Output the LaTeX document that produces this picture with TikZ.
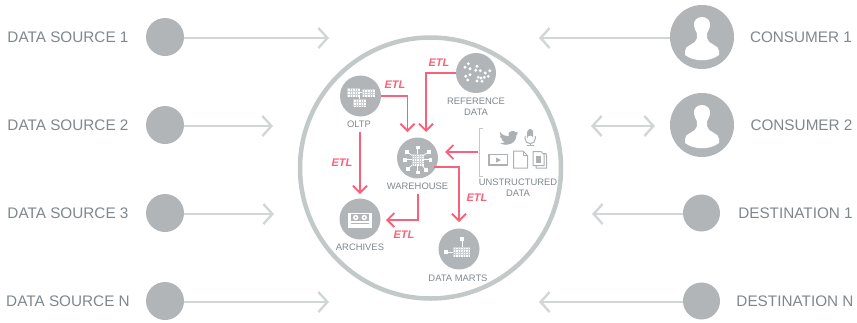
\documentclass[tikz,border=0pt]{standalone}
\usepackage{fontspec}
\setmainfont{Liberation Sans}
\usetikzlibrary{arrows.meta,calc}
\definecolor{disc}{HTML}{B1B5B8}
\definecolor{lbl}{HTML}{7F878C}
\definecolor{flow}{HTML}{D2D6D6}
\definecolor{ring}{HTML}{C3C8C8}
\definecolor{etlred}{HTML}{F9617A}
\definecolor{iconc}{HTML}{ACB0B3}
\definecolor{gridline}{HTML}{CDD0D2}
% x y cols rows cellw cellh
\newcommand{\gridicon}[6]{%
  \fill[white] (#1,#2) rectangle ++({#3*#5},{#4*#6});
  \foreach \ci in {1,...,#3}{\draw[gridline,line width=.4pt] ({#1+\ci*#5-#5},#2) -- ++(0,{#4*#6});}
  \foreach \cj in {1,...,#4}{\draw[gridline,line width=.4pt] (#1,{#2+\cj*#6-#6}) -- ++({#3*#5},0);}
}
\newcommand{\personicon}[2]{%
  \fill[white,shift={(#1,#2)}] (-8,-11) .. controls (-8.7,-16.5) and (-5,-20) .. (0,-20)
   .. controls (5,-20) and (8.7,-16.5) .. (8,-11)
   .. controls (7.5,-8) and (6,-6) .. (5.2,-4) -- (5.2,1.5) .. controls (5.4,4.5) and (8,5.5) .. (12,8)
   .. controls (15,9.5) and (16.8,11) .. (17,14) -- (17,18)
   .. controls (8,25) and (-8,25) .. (-17,18)
   -- (-17,14) .. controls (-16.8,11) and (-15,9.5) .. (-12,8)
   .. controls (-8,5.5) and (-5.4,4.5) .. (-5.2,1.5) -- (-5.2,-4)
   .. controls (-6,-6) and (-7.5,-8) .. (-8,-11) -- cycle;
}
\tikzset{
  x=1pt,y=-1pt,
  bigdisc/.style={circle,fill=disc,inner sep=0pt,minimum size=#1},
  sidelabel/.style={text=lbl,inner sep=0pt,font=\fontsize{15.3}{17}\selectfont},
  smalllabel/.style={text=lbl,inner sep=0pt,align=center,font=\fontsize{9.4}{10.6}\selectfont},
  etl/.style={text=etlred,inner sep=0pt,font=\fontsize{11}{12}\selectfont\bfseries\itshape},
  flowline/.style={draw=flow,line width=2.4pt,-{Straight Barb[length=9pt,width=20pt,line width=2.4pt]}},
  flowboth/.style={draw=flow,line width=2.4pt,{Straight Barb[length=9pt,width=20pt,line width=2.4pt]}-{Straight Barb[length=9pt,width=20pt,line width=2.4pt]}},
  etlline/.style={draw=etlred,line width=1.8pt,-{Straight Barb[length=7pt,width=14pt,line width=1.8pt]}},
  icon/.style={draw=iconc,line width=1.2pt,fill=white},
}
\begin{document}
\begin{tikzpicture}
\useasboundingbox (0,0) rectangle (857,322);
% ring
\node[circle,draw=ring,line width=4.5pt,inner sep=0pt,minimum size=261pt] (ring) at (430.5,168) {};
% left
\node[sidelabel] (ls1) at (68,37) {DATA SOURCE 1};
\node[sidelabel] (ls2) at (68,125) {DATA SOURCE 2};
\node[sidelabel] (ls3) at (68,213) {DATA SOURCE 3};
\node[sidelabel] (lsn) at (68,301) {DATA SOURCE N};
\coordinate (s1e) at (329,38);
\coordinate (s2e) at (273,126);
\coordinate (s3e) at (274,214);
\coordinate (sne) at (329,302);
\coordinate (s1s) at (165,38);
\coordinate (s2s) at (165,126);
\coordinate (s3s) at (165,214);
\coordinate (sns) at (165,302);
\draw[flowline] (s1s) -- (s1e);
\draw[flowline] (s2s) -- (s2e);
\draw[flowline] (s3s) -- (s3e);
\draw[flowline] (sns) -- (sne);
\node[bigdisc=38pt] (s1) at (165,37) {};
\node[bigdisc=38pt] (s2) at (165,125) {};
\node[bigdisc=38pt] (s3) at (165,213) {};
\node[bigdisc=38pt] (sn) at (165,301) {};
% right
\node[sidelabel] (lc1) at (801,37) {CONSUMER 1};
\node[sidelabel] (lc2) at (801.5,125) {CONSUMER 2};
\node[sidelabel] (ld1) at (795.5,213) {DESTINATION 1};
\node[sidelabel] (ldn) at (795,301) {DESTINATION N};
\node[bigdisc=64pt] (c1) at (702,37) {};
\node[bigdisc=64pt] (c2) at (702,125) {};
\node[bigdisc=37pt] (d1) at (701.5,213) {};
\node[bigdisc=37pt] (dn) at (701.5,301) {};
\personicon{702}{37}
\personicon{702}{125}
\coordinate (c1e) at (539,38);
\coordinate (c2a) at (591,126);
\coordinate (c2b) at (655,126);
\coordinate (d1e) at (592,214);
\coordinate (dne) at (539,302);
\draw[flowline] (c1.west |- c1e) -- (c1e);
\draw[flowboth] (c2a) -- (c2b);
\draw[flowline] (d1.west |- d1e) -- (d1e);
\draw[flowline] (dn.west |- dne) -- (dne);
% inner nodes
\node[bigdisc=41pt] (oltp) at (360.5,96) {};
\node[bigdisc=40pt] (refd) at (476,73) {};
\node[bigdisc=41pt] (wh) at (417.5,158) {};
\node[bigdisc=41pt] (arch) at (360,219) {};
\node[bigdisc=41pt] (marts) at (459,249) {};
\node[smalllabel] (loltp) at (359,124) {OLTP};
\node[smalllabel] (lref) at (476,107) {REFERENCE\\DATA};
\node[smalllabel] (lwh) at (417.5,186) {WAREHOUSE};
\node[smalllabel] (larch) at (360,247.5) {ARCHIVES};
\node[smalllabel] (lmarts) at (458,278.5) {DATA MARTS};
\node[smalllabel] (lun) at (518,188) {UNSTRUCTURED\\DATA};
% ETL arrows
\coordinate (wa) at (407.5,132);
\coordinate (wb) at (426,132);
\coordinate (ab) at (360,194);
\coordinate (mt) at (459,222);
\coordinate (wd) at (418,194);
\coordinate (ar) at (386,220);
\coordinate (ua) at (478,152);
\coordinate (ue) at (445,152);
\coordinate (wr) at (434,167);
\coordinate (oltpdown) at (360,132);
\draw[etlline] (oltp.east) -| (wa);
\draw[etlline] (refd.west) -| (wb);
\draw[etlline] (oltpdown) -- (ab);
\draw[etlline] (wr) -| (mt);
\draw[etlline] (wd) |- (ar);
\draw[etlline] (ua) -- (ue);
\node[etl] (e1) at (395,85) {ETL};
\node[etl] (e2) at (439,62.5) {ETL};
\node[etl] (e3) at (342,162.5) {ETL};
\node[etl] (e4) at (477,198) {ETL};
\node[etl] (e5) at (404,235) {ETL};
% bracket
\draw[draw=ring,line width=1pt] (483,128) -- (479.5,128) -- (479.5,176) -- (483,176);
% OLTP icon
\draw[white,line width=.7pt] (360,92.5) -- (362,92.5) (359.5,96.7) -- (359.5,99.3);
\gridicon{347.3}{88.3}{5}{3}{2.5}{2.8}
\gridicon{362}{89}{5}{3}{2.6}{2.8}
\gridicon{353.3}{99.3}{5}{3}{2.5}{2.7}
% reference dots
\foreach \dx/\dy in {-11/-5.7, -7.7/-9.3, -6/-4.3, 1/-6.7, -0.3/-2.7, 4.3/-2.3, 9.3/0, 13.7/-2.3, 12.3/3.3, 8.3/4.3, -10.3/3.3, -6/1.7, -8.3/7, 2.3/4.3, 1/8, 6/8.3, 5/5}
  {\fill[white] ($(476,73)+(\dx,\dy)$) circle (1.6pt);}
% warehouse icon
\foreach \ax/\ay in {0/-12.3, 11/-8, 12.7/0, 8/10, 0/12.7, -9.7/9.3, -13/0, -10.7/-8}
  {\draw[white,line width=.7pt] (417.7,159.7) -- ++(\ax,\ay);
   \fill[white] ($(417.7,159.7)+(\ax,\ay)+(-1.9,-1.9)$) rectangle ++(3.8,3.8);}
\gridicon{411.7}{153.7}{5}{5}{2.4}{2.4}
% archives icon
\fill[white] (347.5,212.5) rectangle (372,227.5);
\fill[disc] (350.5,214.3) rectangle (369,220.7);
\fill[white] (355.7,217.5) circle (2.7pt) (364.3,217.5) circle (2.7pt);
\fill[disc] (355.7,217.5) circle (1.1pt) (364.3,217.5) circle (1.1pt);
\draw[disc,line width=.5pt] (350.5,222.8) -- (369,222.8);
% data marts icon
\draw[white,line width=.7pt] (448,252) -- (453,252) (462,241) -- (462,247.3);
\gridicon{453}{247.3}{7}{4}{2.45}{2.35}
\fill[white] (444,250) rectangle ++(4,4);
\fill[white] (460,237.3) rectangle ++(4,4);
% twitter bird
\begin{scope}[shift={(0,-2.2)}]
\fill[iconc] (500,134) .. controls (502,137) and (505,138.5) .. (508.5,138.5)
  .. controls (508,135) and (510,133) .. (512.5,133) .. controls (514,133) and (515,133.8) .. (515.5,134.5)
  -- (518,133.8) -- (516.5,136) -- (518,135.7) -- (516.5,137.3)
  .. controls (516.5,142) and (513,147) .. (506,147) .. controls (503.5,147) and (501.5,146.3) .. (500,145.3)
  .. controls (502,145.5) and (504,144.8) .. (505,144) .. controls (503,144) and (502,143) .. (501.5,141.7)
  -- (503,141.5) .. controls (501,141) and (500,139.3) .. (500,137.8) -- (501.5,138.2)
  .. controls (499.8,137) and (499.5,135.5) .. (500,134) -- cycle;
\end{scope}
% microphone
\begin{scope}[shift={(0,-2)}]
\fill[iconc] (527.2,134) arc[start angle=180,end angle=0,radius=3pt] -- (533.2,140.5) arc[start angle=0,end angle=180,radius=3pt] -- cycle;
\draw[iconc,line width=1pt] (525,138) -- (525,140.5) arc[start angle=180,end angle=360,radius=5.2pt] -- (535.4,138);
\draw[iconc,line width=1pt] (530.2,145.7) -- (530.2,147) (526.5,147.2) -- (534,147.2);
\end{scope}
% video
\draw[icon,line width=1.3pt] (489,154.8) rectangle (507.8,165);
\fill[iconc] (496,157.5) -- (501,160) -- (496,162.5) -- cycle;
% doc
\draw[icon,line width=1pt] (513.5,151) -- (523,151) -- (527.5,155.5) -- (527.5,168) -- (513.5,168) -- cycle;
\draw[iconc,line width=.8pt] (523,151) -- (523,155.5) -- (527.5,155.5);
% stack
\draw[icon,line width=1pt] (536,153.5) -- (546,153.5) -- (546.5,156) -- (546.5,168) -- (536,168) -- cycle;
\draw[icon,line width=1pt] (533.2,151.5) -- (541,151.5) -- (544,154.5) -- (544,165.5) -- (533.2,165.5) -- cycle;
\fill[iconc] (535.5,155.5) rectangle (540.5,162.5);
\end{tikzpicture}
\end{document}
